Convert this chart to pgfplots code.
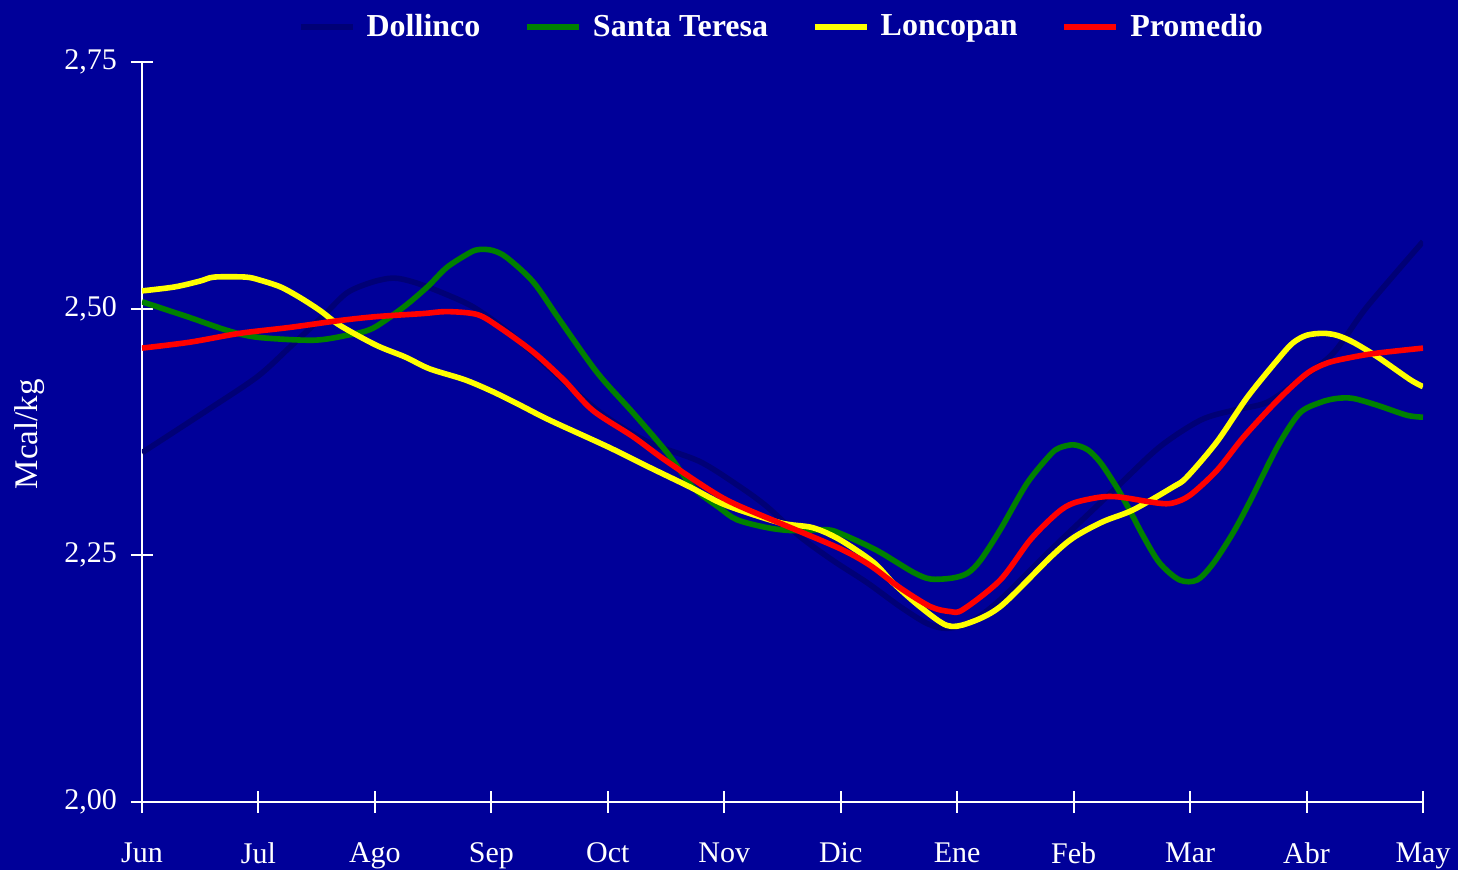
\documentclass[border=0pt]{standalone}
\usepackage{pgfplots}
\pgfplotsset{compat=1.18}
\usepackage{fontspec}
\setmainfont{Liberation Serif}

\definecolor{bgnavy}{RGB}{0,0,153}
\definecolor{cDollinco}{RGB}{0,0,118}
\definecolor{cSanta}{RGB}{0,128,0}
\definecolor{cLonco}{RGB}{255,255,0}
\definecolor{cProm}{RGB}{255,0,0}

% months indexed 0 (Jun) ... 11 (May)
\pgfplotstableread{
t v
0    2.354
0.56 2.397
0.99 2.431
1.27 2.461
1.55 2.492
1.76 2.516
1.98 2.527
2.16 2.531
2.33 2.527
2.56 2.517
2.84 2.502
3.13 2.478
3.42 2.448
3.70 2.418
3.99 2.390
4.36 2.364
4.79 2.345
5.14 2.319
5.37 2.299
5.65 2.269
5.93 2.245
6.23 2.222
6.51 2.198
6.74 2.181
6.91 2.176
7.11 2.182
7.37 2.205
7.80 2.255
8.37 2.319
8.74 2.360
9.09 2.387
9.37 2.397
9.66 2.405
9.94 2.428
10.23 2.455
10.52 2.502
11   2.568
}\dollinco

\pgfplotstableread{
t v
0    2.507
0.41 2.491
0.73 2.478
0.99 2.471
1.47 2.468
1.76 2.473
1.98 2.480
2.24 2.501
2.45 2.522
2.62 2.542
2.82 2.557
2.90 2.560
3.01 2.559
3.13 2.552
3.36 2.527
3.59 2.488
3.91 2.435
4.22 2.394
4.51 2.354
4.73 2.319
4.96 2.298
5.11 2.286
5.37 2.278
5.59 2.275
5.88 2.276
6.02 2.271
6.31 2.255
6.62 2.233
6.77 2.226
6.96 2.227
7.09 2.232
7.20 2.245
7.37 2.276
7.60 2.323
7.80 2.352
7.88 2.359
8.00 2.362
8.12 2.357
8.23 2.344
8.37 2.319
8.48 2.296
8.60 2.269
8.74 2.242
8.91 2.225
9.06 2.225
9.20 2.242
9.37 2.273
9.52 2.306
9.75 2.360
9.94 2.394
10.12 2.405
10.26 2.409
10.40 2.409
10.61 2.402
10.86 2.392
11   2.390
}\santateresa

\pgfplotstableread{
t v
0    2.518
0.28 2.522
0.50 2.528
0.62 2.532
0.89 2.532
1.01 2.529
1.19 2.522
1.36 2.511
1.53 2.498
1.70 2.483
2.01 2.463
2.26 2.451
2.47 2.439
2.77 2.428
3.01 2.416
3.25 2.402
3.50 2.387
4.00 2.360
4.36 2.339
4.71 2.319
5.01 2.301
5.48 2.283
5.76 2.278
5.99 2.266
6.28 2.243
6.45 2.222
6.68 2.198
6.91 2.179
7.09 2.181
7.37 2.198
7.80 2.248
8.00 2.268
8.25 2.284
8.51 2.296
8.85 2.319
8.97 2.329
9.23 2.365
9.49 2.410
9.75 2.448
9.88 2.465
10.00 2.473
10.14 2.475
10.26 2.473
10.40 2.466
10.61 2.451
10.89 2.428
11   2.421
}\loncopan

\pgfplotstableread{
t v
0    2.460
0.41 2.466
0.84 2.475
1.27 2.481
1.70 2.488
2.02 2.492
2.41 2.495
2.62 2.497
2.88 2.494
3.07 2.481
3.36 2.456
3.62 2.428
3.87 2.397
4.22 2.370
4.51 2.345
4.99 2.308
5.45 2.284
5.99 2.257
6.25 2.240
6.51 2.217
6.77 2.198
6.94 2.193
7.05 2.195
7.37 2.225
7.63 2.266
7.86 2.293
8.00 2.303
8.23 2.309
8.40 2.309
8.72 2.303
8.85 2.303
9.00 2.311
9.23 2.336
9.46 2.370
9.75 2.407
10.00 2.434
10.18 2.445
10.40 2.451
10.61 2.455
11   2.460
}\promedio

\begin{document}
\begin{tikzpicture}
\fill[bgnavy] (-71pt,-34pt) rectangle (658pt,401pt);
\begin{axis}[
  at={(0,0)}, anchor=south west,
  scale only axis,
  width=640.5pt, height=370pt,
  xmin=0, xmax=11, ymin=2, ymax=2.75,
  axis x line*=bottom, axis y line*=left,
  axis line style={white, line width=1pt, -},
  every tick/.style={white, line width=1pt},
  tick align=center,
  major tick length=11pt,
  xtick={0,...,11},
  xticklabels={Jun,Jul,Ago,Sep,Oct,Nov,Dic,Ene,Feb,Mar,Abr,May},
  ytick={2,2.25,2.5,2.75},
  yticklabel style={xshift=-3.5pt,
    /pgf/number format/fixed, /pgf/number format/fixed zerofill,
    /pgf/number format/precision=2, /pgf/number format/use comma,
    /pgf/number format/assume math mode=true},
  tick label style={font=\fontsize{15}{18}\selectfont, text=white},
  xticklabel style={yshift=-11.5pt},
  ylabel={Mcal/kg},
  every axis y label/.style={at={(axis description cs:0,0.497)}, xshift=-56pt, rotate=90, anchor=center,
    font=\fontsize{16.5}{19}\selectfont, text=white},
  legend columns=-1,
  legend style={at={(axis description cs:0.5,1)}, anchor=center, yshift=17.5pt,
    draw=none, fill=none, text=white, font=\bfseries\fontsize{16}{19}\selectfont,
    /tikz/every odd column/.append style={column sep=3.5pt},
    /tikz/every even column/.append style={column sep=20pt}},
  legend image code/.code={\draw[#1] (0pt,0pt) -- (26pt,0pt);},
  every axis plot/.append style={line width=2.8pt, smooth, no marks},
]
\addplot[cDollinco] table[x=t,y=v] {\dollinco};
\addlegendentry{Dollinco}
\addplot[cSanta] table[x=t,y=v] {\santateresa};
\addlegendentry{Santa Teresa}
\addplot[cLonco] table[x=t,y=v] {\loncopan};
\addlegendentry{Loncopan}
\addplot[cProm] table[x=t,y=v] {\promedio};
\addlegendentry{Promedio}
\end{axis}
\pgfresetboundingbox
\path[use as bounding box] (-71pt,-34pt) rectangle (658pt,401pt);
\end{tikzpicture}
\end{document}
